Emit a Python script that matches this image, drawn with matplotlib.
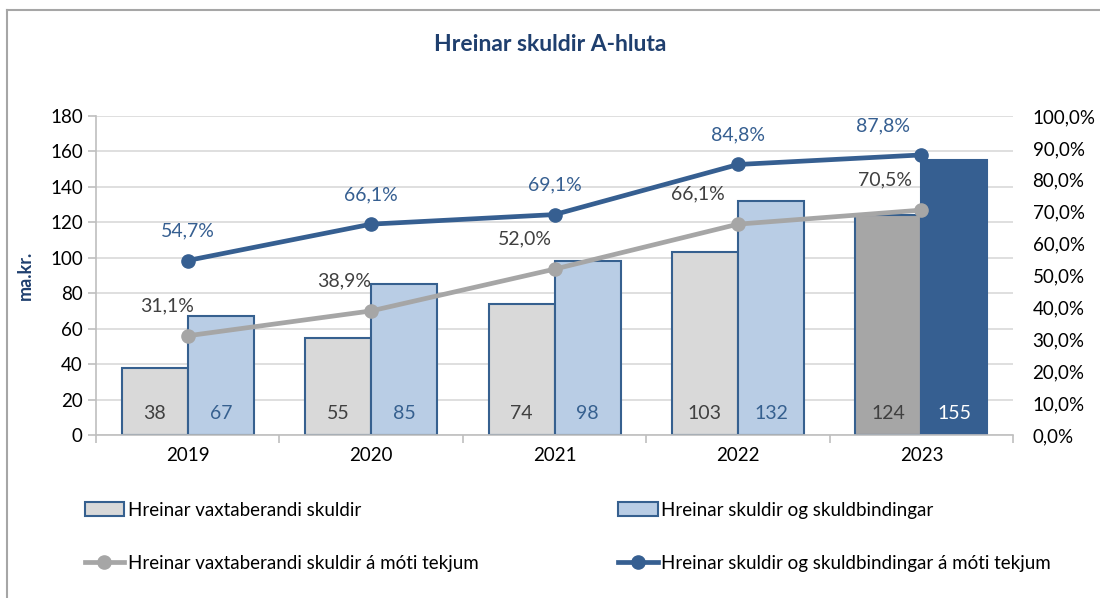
import matplotlib
matplotlib.use("Agg")
import matplotlib.pyplot as plt
import numpy as np
from matplotlib.patches import Patch
from matplotlib.lines import Line2D
from matplotlib.ticker import FuncFormatter, MultipleLocator

plt.rcParams['font.family'] = ['Lato', 'DejaVu Sans']

years = ["2019", "2020", "2021", "2022", "2023"]
vaxta = [38, 55, 74, 103, 124]
skuldir = [67, 85, 98, 132, 155]
vaxta_pct = [31.1, 38.9, 52.0, 66.1, 70.5]
skuldir_pct = [54.7, 66.1, 69.1, 84.8, 87.8]

title = "Hreinar skuldir A-hluta"
ylabel = "ma.kr."
legend_labels = ["Hreinar vaxtaberandi skuldir",
                 "Hreinar skuldir og skuldbindingar",
                 "Hreinar vaxtaberandi skuldir á móti tekjum",
                 "Hreinar skuldir og skuldbindingar á móti tekjum"]

C_EDGE = "#36608f"
C_GRAY = "#d9d9d9"
C_LBLUE = "#b9cde5"
C_DGRAY = "#a6a6a6"
C_DBLUE = "#365f91"
C_TXT = "#404040"
C_TITLE = "#1f3f6e"

FS = 13.5

fig = plt.figure(figsize=(11, 5.98), dpi=100)
ax = fig.add_axes([0.0873, 0.2726, 0.8337, 0.5334])
ax2 = ax.twinx()

x = np.arange(len(years))
w = 0.36
n = len(years)
gray_fc = [C_GRAY] * (n - 1) + [C_DGRAY]
blue_fc = [C_LBLUE] * (n - 1) + [C_DBLUE]
ax.bar(x - w / 2, vaxta, w, color=gray_fc, edgecolor=C_EDGE, linewidth=1.5, zorder=2)
ax.bar(x + w / 2, skuldir, w, color=blue_fc, edgecolor=[C_EDGE] * (n - 1) + [C_DBLUE],
       linewidth=1.5, zorder=2)

for i in range(n):
    ax.text(x[i] - w / 2, 12, f"{vaxta[i]}", ha="center", va="center", fontsize=14,
            color=C_TXT, zorder=3)
    ax.text(x[i] + w / 2, 12, f"{skuldir[i]}", ha="center", va="center", fontsize=14,
            color="white" if i == n - 1 else C_EDGE, zorder=3)

ax.set_xlim(-0.5, n - 0.5)
ax.set_ylim(0, 180)
ax.yaxis.set_major_locator(MultipleLocator(20))
ax.grid(axis="y", color="#d9d9d9", linewidth=1.2, zorder=0)
ax.set_axisbelow(True)
ax.set_xticks(x)
ax.set_xticklabels(years)
ax.set_xticks(np.arange(-0.5, n, 1), minor=True)
ax.tick_params(axis="x", which="major", length=0, labelsize=FS, pad=9, colors="black")
ax.tick_params(axis="x", which="minor", length=6, color="#bfbfbf", width=1.2)
ax.tick_params(axis="y", length=6, color="#bfbfbf", labelsize=FS, width=1.2)
for s in ["top", "right"]:
    ax.spines[s].set_visible(False)
ax.spines["left"].set_color("#bfbfbf")
ax.spines["left"].set_linewidth(1.2)
ax.spines["bottom"].set_color("#bfbfbf")
ax.spines["bottom"].set_linewidth(1.2)
ax.set_ylabel(ylabel, fontsize=13, fontweight="bold", color=C_TITLE, labelpad=12)

ax2.set_ylim(0, 100)
ax2.yaxis.set_major_locator(MultipleLocator(10))
ax2.yaxis.set_major_formatter(FuncFormatter(lambda v, p: f"{v:.1f}%".replace(".", ",")))
ax2.tick_params(axis="y", length=0, labelsize=FS, pad=14)
for s in ["top", "right", "left", "bottom"]:
    ax2.spines[s].set_visible(False)

ax2.plot(x, vaxta_pct, color=C_DGRAY, lw=3.4, marker="o", ms=9.5, zorder=4)
ax2.plot(x, skuldir_pct, color=C_DBLUE, lw=3.4, marker="o", ms=9.5, zorder=5)

gray_dx = [-0.11, -0.15, -0.16, -0.22, -0.2]
blue_dx = [0, 0, 0, 0, -0.21]
for i in range(n):
    ax2.text(x[i] + gray_dx[i], vaxta_pct[i] + 9.5, f"{vaxta_pct[i]:.1f}%".replace(".", ","),
             ha="center", va="center", fontsize=14, color=C_TXT, zorder=6)
    ax2.text(x[i] + blue_dx[i], skuldir_pct[i] + 9.2, f"{skuldir_pct[i]:.1f}%".replace(".", ","),
             ha="center", va="center", fontsize=14, color=C_DBLUE, zorder=6)

fig.text(0.5, 0.925, title, ha="center", va="center", fontsize=16.5, fontweight="bold",
         color=C_TITLE)

# legend
handles = [Patch(facecolor=C_GRAY, edgecolor=C_EDGE, linewidth=1.5),
           Patch(facecolor=C_LBLUE, edgecolor=C_EDGE, linewidth=1.5),
           Line2D([], [], color=C_DGRAY, lw=3.4, marker="o", ms=9.5),
           Line2D([], [], color=C_DBLUE, lw=3.4, marker="o", ms=9.5)]
pos = [(0.077, 0.147), (0.562, 0.147), (0.077, 0.058), (0.562, 0.058)]
for h, lab, p in zip(handles, legend_labels, pos):
    fig.legend([h], [lab], loc="center left", bbox_to_anchor=p, frameon=False,
               fontsize=13.5, handlelength=2.1, handletextpad=0.2, borderaxespad=0,
               borderpad=0)

# outer border
fig.add_artist(Line2D([0.006, 1.0], [0.983, 0.983], transform=fig.transFigure,
                      color="#a6a6a6", lw=1.5))
fig.add_artist(Line2D([0.006, 0.006], [0.0, 0.983], transform=fig.transFigure,
                      color="#a6a6a6", lw=1.5))

fig.savefig("out.png", dpi=100)
